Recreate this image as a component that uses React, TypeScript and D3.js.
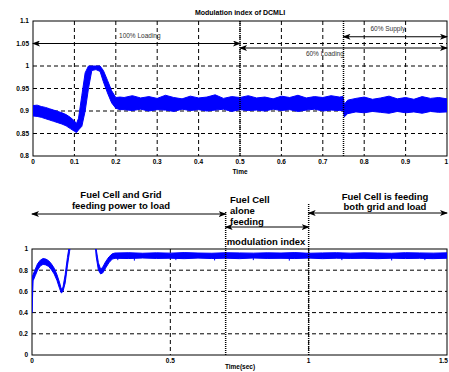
import * as d3 from 'd3'

// top panel: modulation index of DCMLI (noisy trace kept as upper/lower envelope)
const topTime = [
    0, 0.01, 0.02, 0.03, 0.04, 0.05, 0.06, 0.07, 0.08, 0.09, 0.1,
    0.105, 0.11, 0.118, 0.126, 0.134, 0.142, 0.152, 0.162, 0.17, 0.18, 0.19, 0.2, 0.21,
    0.22, 0.24, 0.26, 0.28, 0.3, 0.32, 0.34, 0.36, 0.38, 0.4, 0.42, 0.44, 0.46, 0.48,
    0.5, 0.52, 0.54, 0.56, 0.58, 0.6, 0.62, 0.64, 0.66, 0.68, 0.7, 0.72, 0.74,
    0.749, 0.752, 0.76, 0.78, 0.8, 0.82, 0.84, 0.86, 0.88, 0.9, 0.92, 0.94, 0.96, 0.98, 1,
]
const topUpper = [
    0.912, 0.913, 0.91, 0.908, 0.905, 0.902, 0.899, 0.896, 0.892, 0.886, 0.878,
    0.872, 0.884, 0.935, 0.985, 1.0, 1.0, 1.0, 1.0, 0.99, 0.968, 0.945, 0.93, 0.931,
    0.93, 0.934, 0.929, 0.932, 0.928, 0.935, 0.93, 0.927, 0.933, 0.929, 0.931, 0.936, 0.928, 0.932,
    0.93, 0.934, 0.929, 0.931, 0.927, 0.933, 0.93, 0.935, 0.929, 0.932, 0.93, 0.934, 0.931,
    0.932, 0.915, 0.924, 0.928, 0.931, 0.926, 0.929, 0.933, 0.927, 0.93, 0.926, 0.932, 0.928, 0.93, 0.927,
]
const topLower = [
    0.889, 0.888, 0.886, 0.883, 0.88, 0.877, 0.874, 0.871, 0.867, 0.861, 0.855,
    0.852, 0.858, 0.866, 0.9, 0.95, 0.99, 0.992, 0.988, 0.965, 0.94, 0.918, 0.906, 0.903,
    0.903, 0.901, 0.904, 0.9, 0.903, 0.902, 0.899, 0.904, 0.901, 0.903, 0.9, 0.902, 0.904, 0.899,
    0.903, 0.901, 0.902, 0.9, 0.904, 0.901, 0.903, 0.899, 0.902, 0.904, 0.9, 0.902, 0.901,
    0.901, 0.887, 0.894, 0.898, 0.896, 0.899, 0.897, 0.895, 0.899, 0.896, 0.898, 0.895, 0.899, 0.897, 0.898,
]
const topXTicks = [0, 0.1, 0.2, 0.3, 0.4, 0.5, 0.6, 0.7, 0.8, 0.9, 1]
const topYTicks = [0.8, 0.85, 0.9, 0.95, 1, 1.05, 1.1]

// bottom panel: modulation index
const botTime = [
    0, 0.004, 0.012, 0.02, 0.03, 0.04, 0.05, 0.06, 0.07, 0.08, 0.09, 0.1, 0.106, 0.112,
    0.12, 0.128, 0.136, 0.145, 0.225, 0.232, 0.24, 0.248, 0.256, 0.266, 0.278, 0.29,
    0.3, 0.35, 0.4, 0.45, 0.5, 0.55, 0.6, 0.65, 0.7, 0.75, 0.8, 0.85, 0.9, 0.95,
    1, 1.05, 1.1, 1.15, 1.2, 1.25, 1.3, 1.35, 1.4, 1.45, 1.5,
]
const botUpper = [
    0.73, 0.76, 0.81, 0.86, 0.895, 0.91, 0.905, 0.89, 0.86, 0.82, 0.76, 0.68, 0.62, 0.64,
    0.76, 0.92, 1.05, 1.2, 1.2, 1.0, 0.87, 0.81, 0.83, 0.88, 0.925, 0.955,
    0.962, 0.965, 0.96, 0.964, 0.961, 0.966, 0.962, 0.96, 0.965, 0.963, 0.961, 0.964, 0.962, 0.966,
    0.96, 0.963, 0.965, 0.961, 0.964, 0.962, 0.96, 0.965, 0.963, 0.961, 0.964,
]
const botLower = [
    0.4, 0.7, 0.75, 0.8, 0.84, 0.855, 0.85, 0.835, 0.805, 0.765, 0.705, 0.625, 0.585, 0.6,
    0.68, 0.84, 0.98, 1.15, 1.15, 0.93, 0.8, 0.765, 0.775, 0.82, 0.87, 0.905,
    0.912, 0.91, 0.915, 0.911, 0.913, 0.909, 0.914, 0.91, 0.913, 0.909, 0.915, 0.911, 0.912, 0.91,
    0.914, 0.909, 0.913, 0.911, 0.912, 0.909, 0.913, 0.91, 0.912, 0.909, 0.913,
]
const botDipTime = [0.31, 0.37, 0.52, 0.66, 0.8, 0.93, 1.12, 1.3, 1.42]
const botDipValue = [0.895, 0.89, 0.895, 0.892, 0.895, 0.89, 0.895, 0.892, 0.895]
const botXTicks = [0, 0.5, 1, 1.5]
const botYTicks = [0, 0.2, 0.4, 0.6, 0.8, 1]

const W = 449
const H = 372
const FONT = '"Liberation Sans", Arial, sans-serif'
const BLUE = '#0000ff'

const xTop = d3.scaleLinear().domain([0, 1]).range([33, 447])
const yTop = d3.scaleLinear().domain([0.8, 1.1]).range([156, 21])
const xBot = d3.scaleLinear().domain([0, 1.5]).range([32, 447])
const yBot = d3.scaleLinear().domain([0, 1]).range([355, 249])

function bandPath(
    x: d3.ScaleLinear<number, number>,
    y: d3.ScaleLinear<number, number>,
    t: number[],
    hi: number[],
    lo: number[]
) {
    return (
        d3
            .area<number>()
            .x((d) => x(d))
            .y0((_, i) => y(lo[i]))
            .y1((_, i) => y(hi[i]))(t) ?? ''
    )
}

function Panel({
    id,
    x,
    y,
    xTicks,
    yTicks,
}: {
    id: string
    x: d3.ScaleLinear<number, number>
    y: d3.ScaleLinear<number, number>
    xTicks: number[]
    yTicks: number[]
}) {
    const [x0, x1] = x.range()
    const [y0, y1] = y.range()
    return (
        <g>
            <defs>
                <clipPath id={id}>
                    <rect x={x0} y={y1} width={x1 - x0} height={y0 - y1} />
                </clipPath>
            </defs>
            {xTicks.slice(1, -1).map((t) => (
                <line key={'gx' + t} x1={x(t)} x2={x(t)} y1={y1} y2={y0} stroke="#000" strokeDasharray="4,3" />
            ))}
            {yTicks.slice(1, -1).map((v) => (
                <line key={'gy' + v} x1={x0} x2={x1} y1={y(v)} y2={y(v)} stroke="#000" strokeDasharray="4,3" />
            ))}
            <rect x={x0} y={y1} width={x1 - x0} height={y0 - y1} fill="none" stroke="#000" strokeWidth={1} />
            {xTicks.map((t, i) => {
                const last = i === xTicks.length - 1
                return (
                    <text
                        key={'tx' + t}
                        x={last ? Math.min(x(t) + 5, W - 1) : x(t)}
                        y={y0 + 8}
                        textAnchor={last ? 'end' : 'middle'}
                        fontSize={6.5}
                        fontWeight="bold"
                        fontFamily={FONT}
                    >
                        {String(t)}
                    </text>
                )
            })}
            {yTicks.map((v) => (
                <text key={'ty' + v} x={x0 - 4} y={y(v) + 2.3} textAnchor="end" fontSize={6.5} fontWeight="bold" fontFamily={FONT}>
                    {String(v)}
                </text>
            ))}
        </g>
    )
}

function Arrow({ xa, xb, y, w = 1 }: { xa: number; xb: number; y: number; w?: number }) {
    return (
        <line
            x1={xa}
            x2={xb}
            y1={y}
            y2={y}
            stroke="#000"
            strokeWidth={w}
            markerStart="url(#ah)"
            markerEnd="url(#ah)"
        />
    )
}

export default function App() {
    const boldText = { fontFamily: FONT, fontWeight: 'bold' as const, fontSize: 9.5 }
    const noteText = { fontFamily: FONT, fontSize: 6.5, fill: '#333' }
    return (
        <svg
            width={W}
            height={H}
            style={{ position: 'absolute', left: 0, top: 0, background: 'white' }}
        >
            <defs>
                <marker
                    id="ah"
                    markerUnits="userSpaceOnUse"
                    markerWidth={8}
                    markerHeight={6}
                    refX={7}
                    refY={3}
                    orient="auto-start-reverse"
                >
                    <path d="M0,0 L8,3 L0,6 L2,3 Z" fill="#000" />
                </marker>
            </defs>

            {/* top panel */}
            <Panel id="clipTop" x={xTop} y={yTop} xTicks={topXTicks} yTicks={topYTicks} />
            <g clipPath="url(#clipTop)">
                <path
                    d={bandPath(xTop, yTop, topTime, topUpper, topLower)}
                    fill={BLUE}
                    stroke={BLUE}
                    strokeWidth={1}
                />
            </g>
            {[0.5, 0.75].map((t) => (
                <line key={t} x1={xTop(t)} x2={xTop(t)} y1={yTop(1.1)} y2={yTop(0.8)} stroke="#000" strokeWidth={1.5} strokeDasharray="1,1" />
            ))}
            <Arrow xa={xTop(0)} xb={xTop(0.5)} y={yTop(1.05)} />
            <Arrow xa={xTop(0.5)} xb={xTop(1)} y={yTop(1.04)} />
            <Arrow xa={xTop(0.75)} xb={xTop(1)} y={yTop(1.065)} />
            <text x={xTop(0.258)} y={yTop(1.062)} textAnchor="middle" {...noteText}>100% Loading</text>
            <text x={xTop(0.705)} y={yTop(1.022)} textAnchor="middle" {...noteText}>60% Loading</text>
            <text x={xTop(0.857)} y={yTop(1.077)} textAnchor="middle" {...noteText}>60% Supply</text>
            <text x={240} y={15} textAnchor="middle" fontFamily={FONT} fontWeight="bold" fontSize={7}>
                Modulation index of DCMLI
            </text>
            <text x={240} y={174} textAnchor="middle" fontFamily={FONT} fontWeight="bold" fontSize={6.5}>
                Time
            </text>

            {/* bottom panel */}
            <Panel id="clipBot" x={xBot} y={yBot} xTicks={botXTicks} yTicks={botYTicks} />
            <g clipPath="url(#clipBot)">
                <path
                    d={bandPath(xBot, yBot, botTime, botUpper, botLower)}
                    fill={BLUE}
                    stroke={BLUE}
                    strokeWidth={1}
                />
                {botDipTime.map((t, i) => (
                    <line key={t} x1={xBot(t)} x2={xBot(t)} y1={yBot(0.92)} y2={yBot(botDipValue[i])} stroke={BLUE} strokeWidth={1} />
                ))}
            </g>
            {[0.7, 1].map((t) => (
                <line key={t} x1={xBot(t)} x2={xBot(t)} y1={t === 1 ? 204 : 212} y2={yBot(0)} stroke="#000" strokeWidth={1.5} strokeDasharray="1,1" />
            ))}
            <Arrow xa={xBot(0)} xb={xBot(0.7)} y={214} />
            <Arrow xa={xBot(0.7)} xb={xBot(1)} y={227} />
            <Arrow xa={xBot(1)} xb={xBot(1.5)} y={213} />
            <text x={121} y={198} textAnchor="middle" {...boldText}>Fuel Cell and Grid</text>
            <text x={121} y={209} textAnchor="middle" {...boldText}>feeding power to load</text>
            <text x={230} y={203} {...boldText}>Fuel Cell</text>
            <text x={230} y={214} {...boldText}>alone</text>
            <text x={230} y={225} {...boldText}>feeding</text>
            <text x={385} y={200} textAnchor="middle" {...boldText}>Fuel Cell is feeding</text>
            <text x={385} y={210} textAnchor="middle" {...boldText}>both grid and load</text>
            <text x={266} y={245} textAnchor="middle" {...boldText}>modulation index</text>
            <text x={240} y={369} textAnchor="middle" fontFamily={FONT} fontWeight="bold" fontSize={6.5}>
                Time(sec)
            </text>
        </svg>
    )
}
